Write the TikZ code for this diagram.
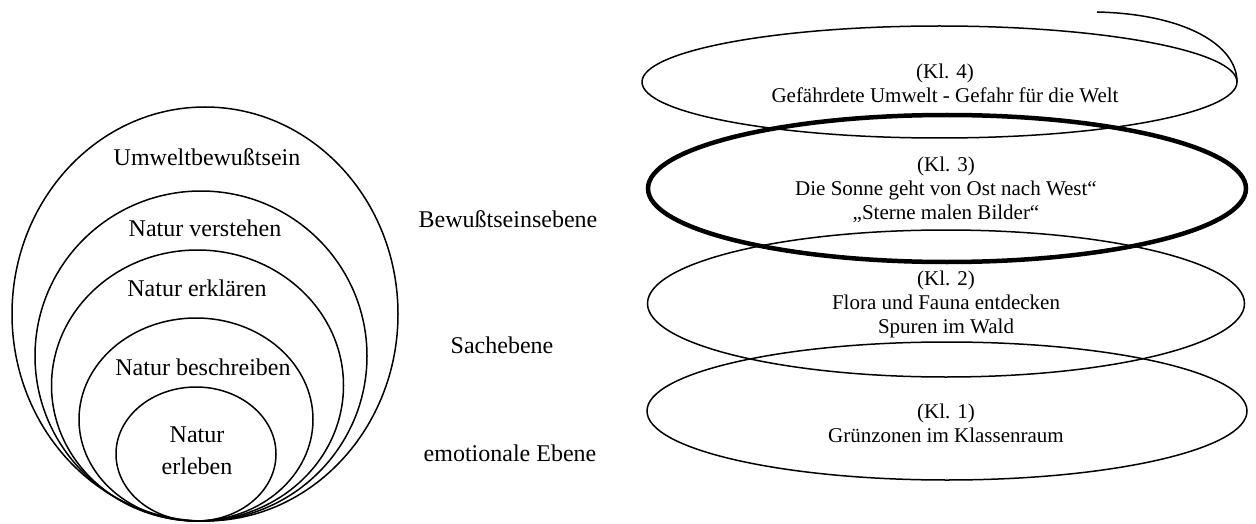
\documentclass[tikz,border=0pt]{standalone}
\usepackage{fontspec}
\setmainfont{Liberation Serif}
\usetikzlibrary{shapes.geometric}
\begin{document}
\begin{tikzpicture}[x=1pt,y=-1pt,
  ring/.style={draw, ellipse, line width=1.5pt, inner sep=0pt, outer sep=0pt},
  thickring/.style={ring, line width=4.5pt},
  lbl/.style={font=\fontsize{24}{32}\selectfont, inner sep=0pt, align=center},
  klt/.style={font=\fontsize{21}{24}\selectfont, inner sep=0pt, align=center},
  ]
\useasboundingbox (0,0) rectangle (1256,524);
% left nested ellipses
\node[ring, minimum width=386pt, minimum height=414pt] (c5) at (205,314) {};
\node[ring, minimum width=332pt, minimum height=330pt] (c4) at (201,356) {};
\node[ring, minimum width=292pt, minimum height=271pt] (c3) at (197.5,385.5) {};
\node[ring, minimum width=234pt, minimum height=203pt] (c2) at (196,419.5) {};
\node[ring, minimum width=160pt, minimum height=134pt] (c1) at (196,454) {};
\node[lbl] (t5) at (207,157) {Umweltbewußtsein};
\node[lbl] (t4) at (205,228) {Natur verstehen};
\node[lbl] (t3) at (197,288) {Natur erklären};
\node[lbl] (t2) at (203,367) {Natur beschreiben};
\node[lbl] (t1) at (197,451) {Natur\\erleben};
% level labels
\node[lbl] (e3) at (508,219) {Bewußtseinsebene};
\node[lbl] (e2) at (502,345) {Sachebene};
\node[lbl] (e1) at (510,453) {emotionale Ebene};
% right ellipses
\node[ring, minimum width=595pt, minimum height=112pt] (k4) at (939.5,82) {};
\node[ring, minimum width=597pt, minimum height=147pt] (k2) at (946,303.5) {};
\node[ring, minimum width=600pt, minimum height=138pt] (k1) at (947,411) {};
\node[thickring, minimum width=598pt, minimum height=147pt] (k3) at (947,188.5) {};
\coordinate (tail) at (1097,12);
\draw[line width=1.5pt] (tail) .. controls (1185,14) and (1237,45) .. (k4.east);
\node[klt] (kt4) at (945,83.5) {(Kl. 4)\\Gefährdete Umwelt - Gefahr für die Welt};
\node[klt] (kt3) at (946,190) {(Kl. 3)\\Die Sonne geht von Ost nach West“\\„Sterne malen Bilder“};
\node[klt] (kt2) at (946,304) {(Kl. 2)\\Flora und Fauna entdecken\\Spuren im Wald};
\node[klt] (kt1) at (946,423.5) {(Kl. 1)\\Grünzonen im Klassenraum};
\end{tikzpicture}
\end{document}
